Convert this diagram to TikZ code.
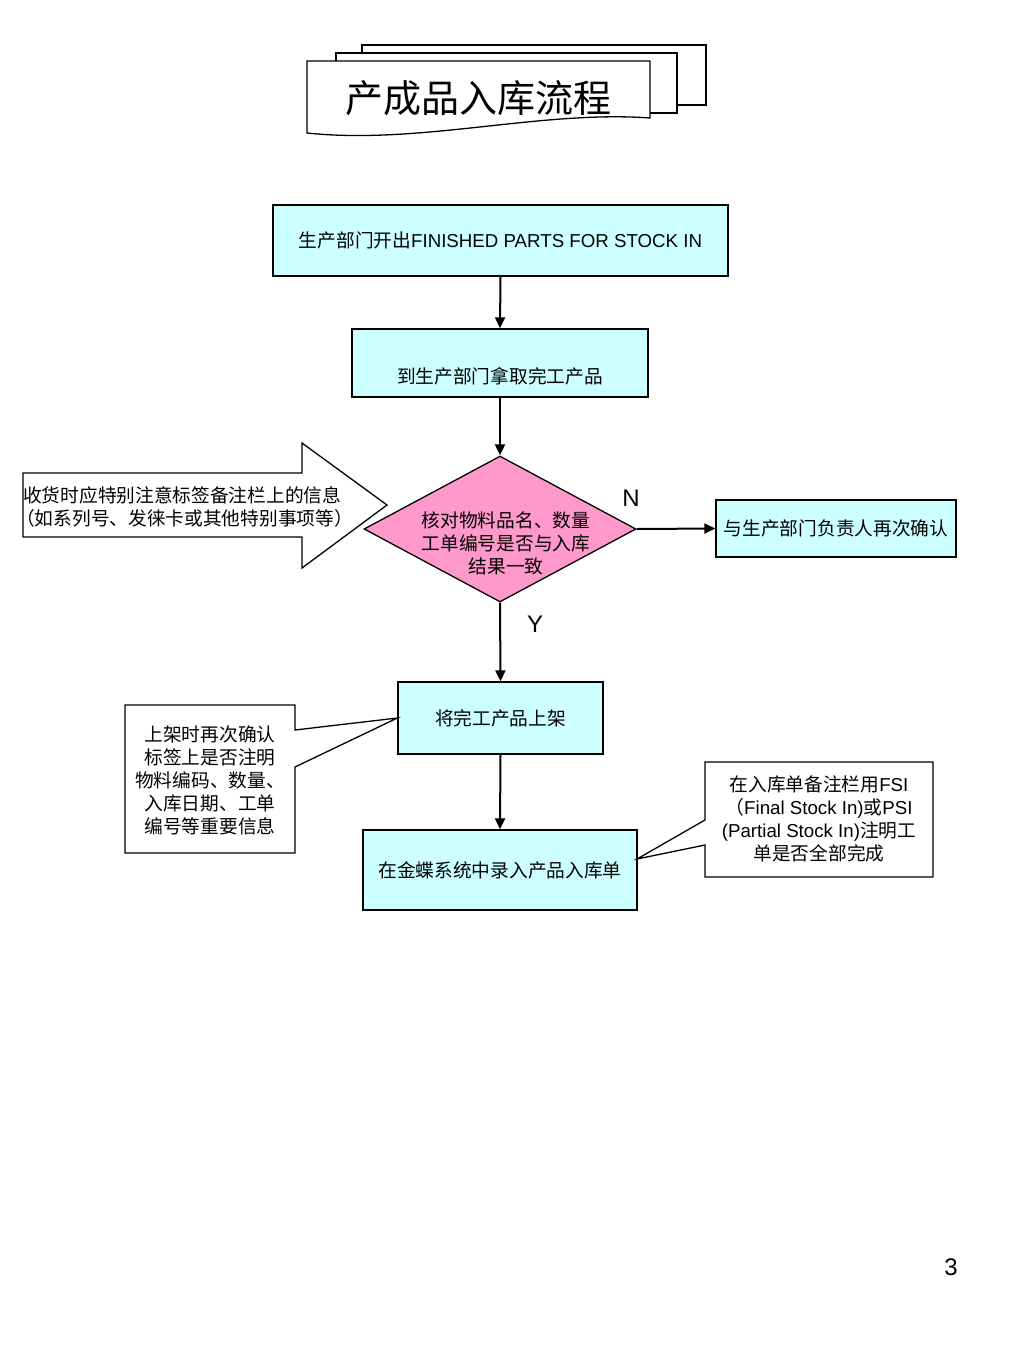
\documentclass[tikz,border=0pt]{standalone}
\usepackage{fontspec}
\setmainfont{Liberation Sans}
\newfontfamily\cjk{Noto Sans CJK SC}
\usetikzlibrary{arrows.meta,shapes.geometric}
\newcommand{\zh}[1]{{\cjk #1}}
\definecolor{cyanfill}{HTML}{CCFFFF}
\definecolor{pinkfill}{HTML}{FF99CC}
\begin{document}
\begin{tikzpicture}[x=1pt,y=-1pt,
  bodyfont/.style={font=\fontsize{18.7}{23}\selectfont},
  box/.style={draw, line width=1.3pt, fill=cyanfill, inner sep=0pt, bodyfont},
  txt/.style={inner sep=0pt, bodyfont, align=center},
  arr/.style={-{Triangle[length=11pt,width=10pt]}, line width=2pt},
  outl/.style={draw, line width=1.3pt, fill=white},
  lbl/.style={inner sep=0pt, font=\fontsize{24}{26}\selectfont}
]
\useasboundingbox[fill=white] (0,0) rectangle (1024,1365);

% title documents
\path[outl] (362,45) rectangle (706,105);
\path[outl] (336,53) rectangle (677,113);
\path[outl] (307,61) -- (650,61) -- (650,118) .. controls (540,110) and (420,145) .. (307,133) -- cycle;
\node[inner sep=0pt, font=\cjk\fontsize{38}{40}\selectfont] (title) at (478,98) {产成品入库流程};

% boxes
\node[box, minimum width=455pt, minimum height=71pt] (b1) at (500.5,240.5) {\zh{生产部门开出}FINISHED PARTS FOR STOCK IN};
\node[box, minimum width=296pt, minimum height=68pt] (b2) at (500,363) {};
\node[txt] (b2t) at (500,376) {\zh{到生产部门拿取完工产品}};
\node[draw, diamond, fill=pinkfill, minimum width=272pt, minimum height=146pt, inner sep=0pt, line width=1.3pt] (dia) at (500,529) {};
\node[txt] (diat) at (506,543) {\zh{核对物料品名、数量}\\\zh{工单编号是否与入库}\\\zh{结果一致}};
\node[box, minimum width=240pt, minimum height=57pt] (rb) at (836,528.5) {\zh{与生产部门负责人再次确认}};
\node[box, minimum width=205pt, minimum height=72pt] (b3) at (500.5,718) {\zh{将完工产品上架}};
\node[box, minimum width=274pt, minimum height=80pt] (b4) at (500,870) {\zh{在金蝶系统中录入产品入库单}};

% connectors
\draw[arr] (b1.south) -- (b2.north);
\draw[arr] (b2.south) -- (dia.north);
\draw[arr] (dia.east) -- (rb.west);
\draw[arr] (dia.south) -- (b3.north);
\draw[arr] (b3.south) -- (b4.north);
\node[lbl] (nl) at (631,498) {N};
\node[lbl] (yl) at (535,624) {Y};

% left block arrow
\path[outl] (23,473) -- (302,473) -- (302,443) -- (387,505) -- (302,568) -- (302,537) -- (23,537) -- cycle;
\node[txt, align=left, anchor=west] (lat) at (23,506.5) {\zh{收货时应特别注意标签备注栏上的信息}\\\hspace*{-7pt}\zh{（如系列号、发徕卡或其他特别事项等）}};

% left callout
\coordinate (ltip) at (b3.west);
\path[outl] (125,705) -- (295,705) -- (295,730) -- (ltip) -- (295,767) -- (295,853) -- (125,853) -- cycle;
\node[txt] (lct) at (210,780.5) {\zh{上架时再次确认}\\\zh{标签上是否注明}\\\zh{物料编码、数量、}\\\zh{入库日期、工单}\\\zh{编号等重要信息}};

% right callout
\coordinate (rtip) at (637,859);
\path[outl] (705,762) -- (933,762) -- (933,877) -- (705,877) -- (705,845) -- (rtip) -- (705,820) -- cycle;
\node[txt] (rct) at (819,819) {\zh{在入库单备注栏用}FSI\\\zh{（}Final Stock In)\zh{或}PSI\\(Partial Stock In)\zh{注明工}\\\zh{单是否全部完成}};

\node[lbl] (pg) at (951,1267) {3};
\end{tikzpicture}
\end{document}
